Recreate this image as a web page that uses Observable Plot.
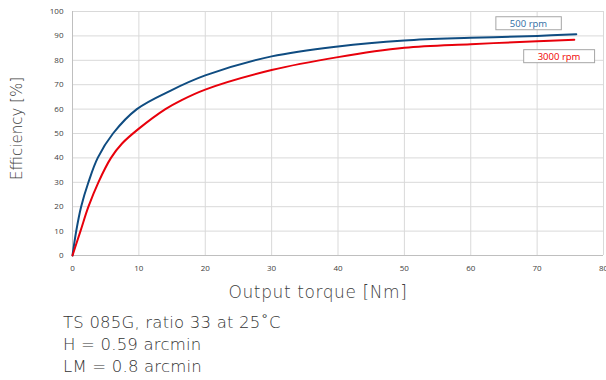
<!DOCTYPE html>
<html>
<head>
<meta charset="utf-8">
<script src="https://cdn.jsdelivr.net/npm/d3@7"></script>
<script src="https://cdn.jsdelivr.net/npm/@observablehq/plot@0.6"></script>
<style>
  html, body { margin: 0; padding: 0; background: #fff; }
  #wrap { width: 606px; height: 380px; position: relative; overflow: hidden; }
  #caption { margin: 7px 0 0 63px; font-family: "DejaVu Sans", sans-serif; font-weight: 200; font-size: 16.5px; letter-spacing: 0.2px; line-height: 22px; color: #333; }
</style>
</head>
<body>
<div id="wrap">
  <div id="chart"></div>
  <div id="caption">
    <div>TS 085G, ratio 33 at 25˚C</div>
    <div>H = 0.59 arcmin</div>
    <div>LM = 0.8 arcmin</div>
  </div>
</div>
<script>
// ---- data ----
const seriesNames = ["500 rpm", "3000 rpm"];
const seriesColors = ["#0f4c81", "#e8000b"];

const torque500 = [0, 0.56, 1.3, 2.4, 3.8, 6.1, 9.7, 14.8, 20, 30, 40, 50, 60, 70, 75.9];
const eff500    = [0, 10, 20, 30, 40, 50, 60, 67.6, 73.8, 81.6, 85.7, 88.1, 89.2, 90.0, 90.7];

const torque3000 = [0, 1.2, 2.4, 3.9, 5.8, 7.5, 10, 14, 16.3, 20, 30, 40, 50, 60, 70, 75.6];
const eff3000    = [0, 10, 20, 30, 40, 46, 52, 60, 63.5, 68, 76, 81.3, 85.1, 86.6, 87.8, 88.4];

const xTicks = [0, 10, 20, 30, 40, 50, 60, 70, 80];
const yTicks = [0, 10, 20, 30, 40, 50, 60, 70, 80, 90, 100];

const labelText = ["500 rpm", "3000 rpm"];
const labelX = [68.7, 73.3];
const labelY = [95.0, 81.5];
const labelColors = ["#2f6ca3", "#f00000"];

const xTitle = "Output torque [Nm]";
const yTitle = "Efficiency [%]";

// ---- build tables ----
const rows = [
  ...torque500.map((t, i) => ({series: seriesNames[0], torque: t, eff: eff500[i]})),
  ...torque3000.map((t, i) => ({series: seriesNames[1], torque: t, eff: eff3000[i]}))
];
const labels = labelText.map((t, i) => ({text: t, x: labelX[i], y: labelY[i], color: labelColors[i]}));

const gridColor = "#d9d9d9";
const titleFont = "'DejaVu Sans', sans-serif";
const chart = Plot.plot({
  width: 606,
  height: 305,
  marginLeft: 72,
  marginRight: 3,
  marginTop: 11,
  marginBottom: 50,
  style: {fontFamily: "'Open Sans', sans-serif", color: "#404040", background: "#fff", overflow: "visible"},
  x: {domain: [0, 80]},
  y: {domain: [0, 100]},
  color: {domain: seriesNames, range: seriesColors},
  marks: [
    Plot.gridX(xTicks, {stroke: gridColor, strokeOpacity: 1, strokeWidth: 1}),
    Plot.gridY(yTicks, {stroke: gridColor, strokeOpacity: 1, strokeWidth: 1}),
    Plot.ruleX([0], {stroke: "#bfbfbf", strokeWidth: 1}),
    Plot.ruleY([0], {stroke: "#bfbfbf", strokeWidth: 1}),
    Plot.axisX(xTicks, {tickSize: 0, tickPadding: 10, fontSize: 8, label: null}),
    Plot.axisY(yTicks, {tickSize: 0, tickPadding: 9, fontSize: 8, label: null}),
    Plot.line(rows, {x: "torque", y: "eff", z: "series", stroke: "series", strokeWidth: 2, curve: "catmull-rom"}),
    Plot.text(labels, {x: "x", y: "y", text: "text", fill: "color", fontSize: 9.5}),
    Plot.text([xTitle], {frameAnchor: "bottom", dx: -20, dy: 42, fontSize: 17, fill: "#404040", fontFamily: titleFont, fontWeight: 200}),
    Plot.text([yTitle], {frameAnchor: "left", textAnchor: "middle", dx: -55, dy: -5, rotate: -90, fontSize: 15, fill: "#404040", fontFamily: titleFont, fontWeight: 200})
  ]
});
document.getElementById("chart").appendChild(chart);

// letter spacing for the x axis title
Array.from(chart.querySelectorAll("text"))
  .filter(t => t.textContent.trim() === xTitle)
  .forEach(t => t.style.letterSpacing = "0.6px");

// boxes around the series labels
const ns = "http://www.w3.org/2000/svg";
Array.from(chart.querySelectorAll("text"))
  .filter(t => labelText.includes(t.textContent.trim()))
  .forEach(t => {
    let b;
    try { b = t.getBBox(); } catch (e) { return; }
    const r = document.createElementNS(ns, "rect");
    const w = b.width + 28, h = 13;
    const cx = b.x + b.width / 2, cy = b.y + b.height / 2;
    r.setAttribute("x", cx - w / 2);
    r.setAttribute("y", cy - h / 2);
    r.setAttribute("width", w);
    r.setAttribute("height", h);
    r.setAttribute("fill", "#fff");
    r.setAttribute("stroke", "#a6a6a6");
    r.setAttribute("stroke-width", 1);
    const tr = t.getAttribute("transform");
    if (tr) r.setAttribute("transform", tr);
    t.parentNode.insertBefore(r, t);
  });
</script>
</body>
</html>
